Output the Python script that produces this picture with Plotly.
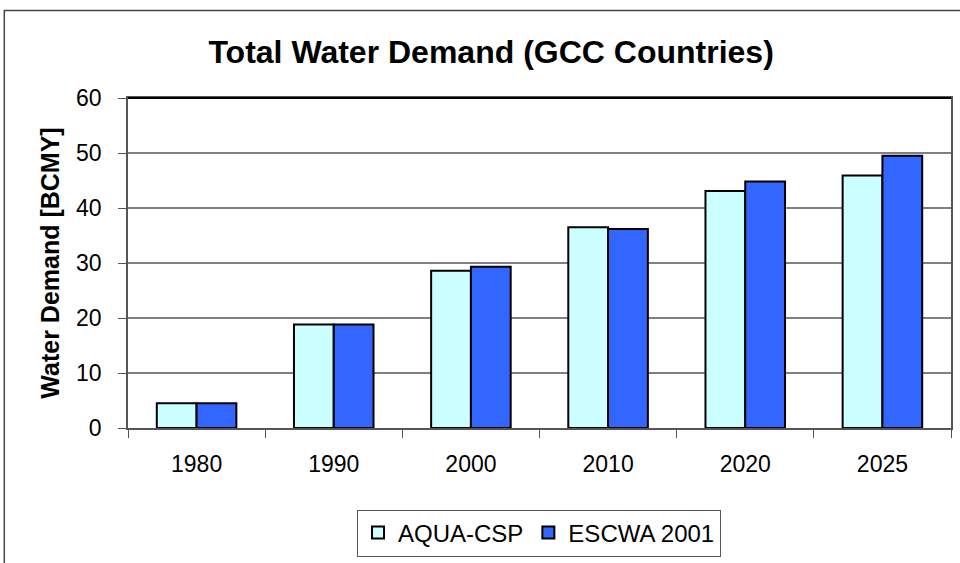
import plotly.graph_objects as go

# Total water demand in the GCC countries, billion cubic metres per year
years = ["1980", "1990", "2000", "2010", "2020", "2025"]
aqua_csp = [4.5, 18.8, 28.6, 36.5, 43.1, 45.9]
escwa_2001 = [4.5, 18.8, 29.3, 36.2, 44.8, 49.5]
y_ticks = [0, 10, 20, 30, 40, 50, 60]

W, H = 960, 563
L, R, T, B = 128, 7, 98, 133
pw, ph = W - L - R, H - T - B


def px_x(px):
    return (px - L) / pw


def px_y(py):
    return (H - B - py) / ph


fig = go.Figure()
fig.add_trace(go.Bar(
    x=years, y=aqua_csp, name="AQUA-CSP",
    marker=dict(color="#CCFFFF", line=dict(color="black", width=2)),
))
fig.add_trace(go.Bar(
    x=years, y=escwa_2001, name="ESCWA 2001",
    marker=dict(color="#3366FF", line=dict(color="black", width=2)),
))

font = "Liberation Sans, Arial, sans-serif"

fig.update_layout(
    width=W, height=H,
    margin=dict(l=L, r=R, t=T, b=B),
    paper_bgcolor="white", plot_bgcolor="white",
    barmode="group", bargap=0.42, bargroupgap=0,
    font=dict(family=font, size=23, color="black"),
    title=dict(
        text="<b>Total Water Demand (GCC Countries)</b>",
        x=px_x(492), xref="paper", xanchor="center",
        y=1 - 52 / H, yref="container", yanchor="middle",
        font=dict(size=32, family=font, color="black"),
    ),
    showlegend=True,
    legend=dict(
        orientation="h", x=px_x(540), xanchor="center",
        y=px_y(512), yanchor="top",
        bordercolor="#555555", borderwidth=1,
        font=dict(size=24, family=font),
        itemsizing="constant", itemwidth=30,
        traceorder="normal",
    ),
    xaxis=dict(
        type="category", tickson="boundaries",
        ticks="outside", ticklen=8, tickcolor="#555555",
        showline=True, linecolor="#555555", linewidth=1.5, mirror=True,
        showgrid=False, tickfont=dict(size=23), ticklabelstandoff=15,
    ),
    yaxis=dict(
        range=[0, 60], tickvals=y_ticks,
        ticks="outside", ticklen=8, tickcolor="#555555",
        showline=True, linecolor="#555555", linewidth=1.5, mirror=True,
        showgrid=True, gridcolor="#808080", gridwidth=1.5,
        tickfont=dict(size=23), ticklabelstandoff=12,
        title=dict(text="<b>Water Demand [BCMY]</b>", font=dict(size=25), standoff=9),
    ),
    shapes=[
        # outer chart frame, running off the right and bottom edges
        dict(type="rect", xref="paper", yref="paper",
             x0=px_x(4), x1=px_x(1000), y0=px_y(620), y1=px_y(10),
             line=dict(color="#444444", width=1.5), layer="below"),
        # dark top edge of the plot area
        dict(type="line", xref="paper", yref="paper",
             x0=0, x1=1, y0=1, y1=1, line=dict(color="black", width=2)),
    ],
)

fig.write_html("out.html")
